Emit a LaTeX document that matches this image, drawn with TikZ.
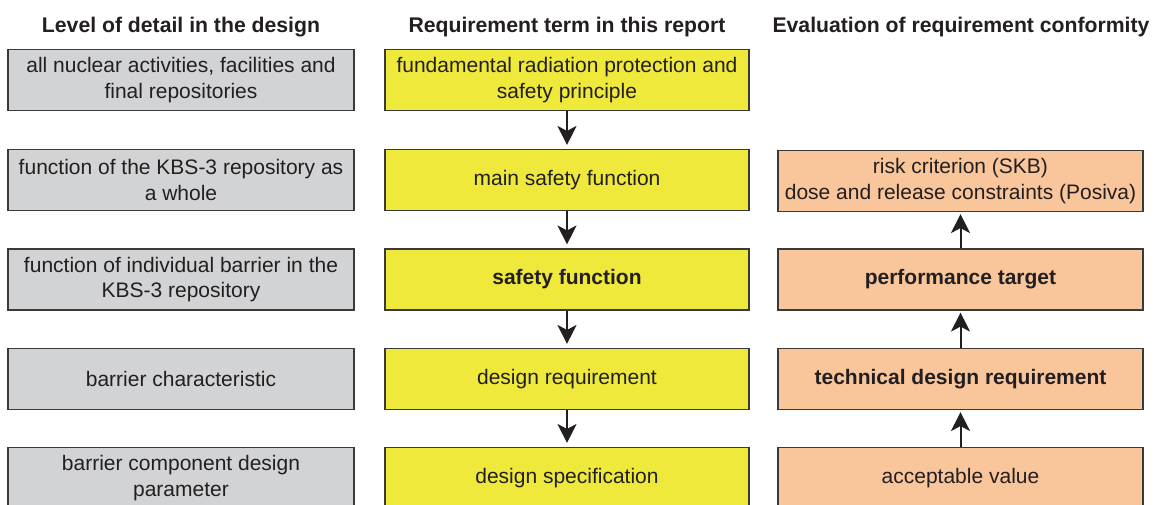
\documentclass[tikz,border=0pt]{standalone}
\usepackage{fontspec}
\setmainfont{Liberation Sans}
\usetikzlibrary{arrows.meta}
\definecolor{txt}{HTML}{231F20}
\definecolor{bord}{HTML}{3A3A3A}
\definecolor{greyfill}{HTML}{D1D3D4}
\definecolor{yelfill}{HTML}{EEE93B}
\definecolor{orfill}{HTML}{F9C59A}
\tikzset{
  box/.style={draw=bord, line width=1.1pt, rectangle, minimum height=61pt, inner sep=2pt, align=center, text=txt, font=\fontsize{21}{25.5}\selectfont},
  lbox/.style={box, fill=greyfill, minimum width=346pt},
  mbox/.style={box, fill=yelfill, minimum width=364pt},
  rbox/.style={box, fill=orfill, minimum width=365pt},
  hdr/.style={text=txt, font=\fontsize{21.2}{25}\selectfont\bfseries, inner sep=0pt},
  arr/.style={draw=txt, line width=2pt, -{Stealth[length=19pt,width=19pt,inset=5pt]}}
}
\begin{document}
\begin{tikzpicture}[x=1pt,y=-1pt]
\useasboundingbox (0,0) rectangle (1160,504);
\clip (0,0) rectangle (1160,504);
\fill[white] (0,0) rectangle (1160,504);
% headers
\node[hdr] (h1) at (181,27) {Level of detail in the design};
\node[hdr] (h2) at (567,27) {Requirement term in this report};
\node[hdr] (h3) at (961,27) {Evaluation of requirement conformity};
% left column
\node[lbox] (l1) at (181,80) {all nuclear activities, facilities and\\final repositories};
\node[lbox] (l2) at (181,180) {function of the KBS-3 repository as\\a whole};
\node[lbox] (l3) at (181,279.5) {function of individual barrier in the\\KBS-3 repository};
\node[lbox] (l4) at (181,379) {barrier characteristic};
\node[lbox] (l5) at (181,478) {barrier component design\\parameter};
% middle column
\node[mbox] (m1) at (567,80) {fundamental radiation protection and\\safety principle};
\node[mbox] (m2) at (567,180) {main safety function};
\node[mbox] (m3) at (567,279.5) {\bfseries safety function};
\node[mbox] (m4) at (567,379) {design requirement};
\node[mbox] (m5) at (567,478) {design specification};
% right column
\node[rbox] (r2) at (960.5,181) {risk criterion (SKB)\\dose and release constraints (Posiva)};
\node[rbox] (r3) at (960.5,279.5) {\bfseries performance target};
\node[rbox] (r4) at (960.5,379) {\bfseries technical design requirement};
\node[rbox] (r5) at (960.5,478) {acceptable value};
% arrows
\draw[arr, shorten >=4pt] (m1.south) -- (m2.north);
\draw[arr, shorten >=4pt] (m2.south) -- (m3.north);
\draw[arr, shorten >=4pt] (m3.south) -- (m4.north);
\draw[arr, shorten >=4pt] (m4.south) -- (m5.north);
\draw[arr, shorten >=2pt] (r3.north) -- (r2.south);
\draw[arr, shorten >=2pt] (r4.north) -- (r3.south);
\draw[arr, shorten >=2pt] (r5.north) -- (r4.south);
\end{tikzpicture}
\end{document}
